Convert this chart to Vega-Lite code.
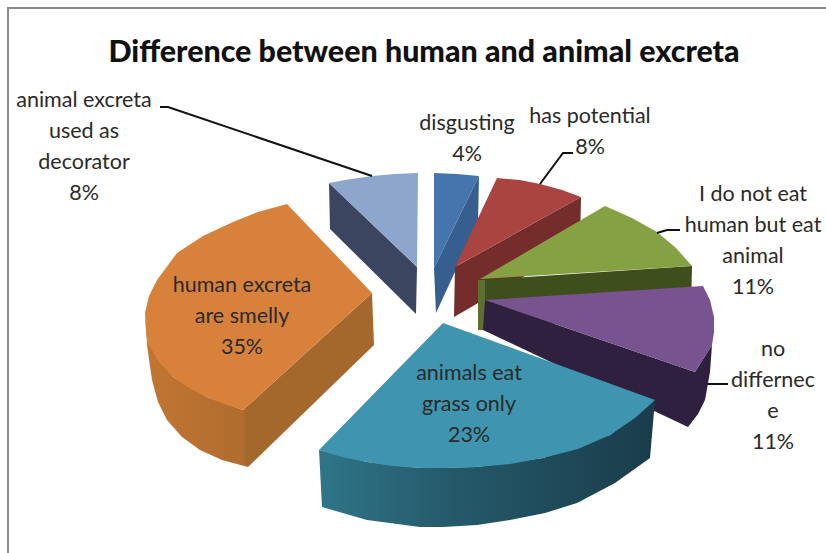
{
  "$schema": "https://vega.github.io/schema/vega-lite/v6.json",
  "width": 826,
  "height": 553,
  "autosize": {"type": "none"},
  "padding": 0,
  "background": "#ffffff",
  "view": {"stroke": null},
  "title": {
    "text": "Difference between human and animal excreta",
    "font": "Lato",
    "fontSize": 30.4,
    "fontWeight": 900,
    "color": "#111111",
    "anchor": "middle",
    "frame": "group",
    "offset": -68,
    "dx": 11
  },
  "resolve": {"scale": {"fill": "independent"}},
  "datasets": {
    "frame": [
      {"part": "frame", "x": 8, "y": 553},
      {"part": "frame", "x": 8, "y": 8},
      {"part": "frame", "x": 826, "y": 8}
    ],
    "rear": [
      {"part": "decorator side", "x": 329, "y": 183}, {"part": "decorator side", "x": 330, "y": 229}, {"part": "decorator side", "x": 416, "y": 314}, {"part": "decorator side", "x": 417, "y": 267},
      {"part": "decorator top", "x": 329, "y": 183}, {"part": "decorator top", "x": 345, "y": 180}, {"part": "decorator top", "x": 372, "y": 176}, {"part": "decorator top", "x": 395, "y": 174}, {"part": "decorator top", "x": 418, "y": 173}, {"part": "decorator top", "x": 417, "y": 267},
      {"part": "disgusting side", "x": 479, "y": 176}, {"part": "disgusting side", "x": 478, "y": 222}, {"part": "disgusting side", "x": 436, "y": 313}, {"part": "disgusting side", "x": 434, "y": 268},
      {"part": "disgusting top", "x": 434, "y": 173}, {"part": "disgusting top", "x": 457, "y": 174}, {"part": "disgusting top", "x": 479, "y": 176}, {"part": "disgusting top", "x": 434, "y": 268},
      {"part": "potential side", "x": 581, "y": 197}, {"part": "potential side", "x": 580, "y": 244}, {"part": "potential side", "x": 454, "y": 317}, {"part": "potential side", "x": 455, "y": 267},
      {"part": "potential top", "x": 497, "y": 178}, {"part": "potential top", "x": 520, "y": 180}, {"part": "potential top", "x": 540, "y": 184}, {"part": "potential top", "x": 562, "y": 190}, {"part": "potential top", "x": 581, "y": 197}, {"part": "potential top", "x": 455, "y": 267},
      {"part": "eat side", "x": 692, "y": 266}, {"part": "eat side", "x": 691, "y": 312}, {"part": "eat side", "x": 478, "y": 330}, {"part": "eat side", "x": 480, "y": 280},
      {"part": "eat edge", "x": 478, "y": 280}, {"part": "eat edge", "x": 485, "y": 280}, {"part": "eat edge", "x": 485, "y": 330}, {"part": "eat edge", "x": 478, "y": 330},
      {"part": "eat top", "x": 605, "y": 206}, {"part": "eat top", "x": 632, "y": 218}, {"part": "eat top", "x": 657, "y": 232}, {"part": "eat top", "x": 676, "y": 248}, {"part": "eat top", "x": 692, "y": 266}, {"part": "eat top", "x": 480, "y": 279},
      {"part": "same side", "x": 485, "y": 300}, {"part": "same side", "x": 483, "y": 330}, {"part": "same side", "x": 688, "y": 427}, {"part": "same side", "x": 698, "y": 414}, {"part": "same side", "x": 705, "y": 400}, {"part": "same side", "x": 710, "y": 372}, {"part": "same side", "x": 712, "y": 345}, {"part": "same side", "x": 695, "y": 372},
      {"part": "same top", "x": 703, "y": 286}, {"part": "same top", "x": 710, "y": 300}, {"part": "same top", "x": 714, "y": 317}, {"part": "same top", "x": 714, "y": 332}, {"part": "same top", "x": 712, "y": 345}, {"part": "same top", "x": 695, "y": 372}, {"part": "same top", "x": 485, "y": 300}
    ],
    "smellySide": [
      {"x": 145, "y": 313}, {"x": 147, "y": 345}, {"x": 152, "y": 380}, {"x": 158, "y": 402}, {"x": 167, "y": 420}, {"x": 182, "y": 437}, {"x": 200, "y": 450}, {"x": 222, "y": 460}, {"x": 248, "y": 467},
      {"x": 374, "y": 345}, {"x": 372, "y": 293}, {"x": 243, "y": 410}, {"x": 207, "y": 397}, {"x": 173, "y": 377}, {"x": 148, "y": 343}
    ],
    "grassSide": [
      {"x": 319, "y": 450}, {"x": 322, "y": 507}, {"x": 367, "y": 520}, {"x": 420, "y": 527}, {"x": 443, "y": 527}, {"x": 477, "y": 525}, {"x": 510, "y": 520}, {"x": 545, "y": 513}, {"x": 577, "y": 503}, {"x": 615, "y": 483}, {"x": 650, "y": 458},
      {"x": 655, "y": 400}, {"x": 610, "y": 435}, {"x": 543, "y": 458}, {"x": 477, "y": 467}, {"x": 420, "y": 468}, {"x": 367, "y": 462}
    ],
    "front": [
      {"part": "grass top", "x": 443, "y": 323}, {"part": "grass top", "x": 655, "y": 400}, {"part": "grass top", "x": 635, "y": 418}, {"part": "grass top", "x": 610, "y": 435}, {"part": "grass top", "x": 578, "y": 449}, {"part": "grass top", "x": 543, "y": 458}, {"part": "grass top", "x": 510, "y": 464}, {"part": "grass top", "x": 477, "y": 467}, {"part": "grass top", "x": 445, "y": 468}, {"part": "grass top", "x": 420, "y": 468}, {"part": "grass top", "x": 392, "y": 466}, {"part": "grass top", "x": 367, "y": 462}, {"part": "grass top", "x": 342, "y": 457}, {"part": "grass top", "x": 319, "y": 450},
      {"part": "smelly top", "x": 287, "y": 204}, {"part": "smelly top", "x": 258, "y": 212}, {"part": "smelly top", "x": 233, "y": 222}, {"part": "smelly top", "x": 203, "y": 236}, {"part": "smelly top", "x": 177, "y": 253}, {"part": "smelly top", "x": 157, "y": 280}, {"part": "smelly top", "x": 149, "y": 296}, {"part": "smelly top", "x": 145, "y": 313}, {"part": "smelly top", "x": 146, "y": 330}, {"part": "smelly top", "x": 148, "y": 343}, {"part": "smelly top", "x": 159, "y": 362}, {"part": "smelly top", "x": 173, "y": 377}, {"part": "smelly top", "x": 189, "y": 388}, {"part": "smelly top", "x": 207, "y": 397}, {"part": "smelly top", "x": 224, "y": 404}, {"part": "smelly top", "x": 243, "y": 410}, {"part": "smelly top", "x": 372, "y": 293}
    ],
    "leaders": [
      {"label": "decorator", "x": 160, "y": 107}, {"label": "decorator", "x": 168, "y": 107}, {"label": "decorator", "x": 372, "y": 176},
      {"label": "potential", "x": 573, "y": 153}, {"label": "potential", "x": 563, "y": 153}, {"label": "potential", "x": 540, "y": 184},
      {"label": "eat", "x": 680, "y": 230}, {"label": "eat", "x": 667, "y": 230}, {"label": "eat", "x": 657, "y": 233},
      {"label": "same", "x": 728, "y": 384}, {"label": "same", "x": 707, "y": 384}
    ],
    "labels": [
      {"text": ["animal excreta", "used as", "decorator", "8%"], "share": 8, "x": 84, "y": 107},
      {"text": ["disgusting", "4%"], "share": 4, "x": 467, "y": 130},
      {"text": ["has potential", "8%"], "share": 8, "x": 590, "y": 123},
      {"text": ["I do not eat", "human but eat", "animal", "11%"], "share": 11, "x": 753, "y": 201},
      {"text": ["no", "differnec", "e", "11%"], "share": 11, "x": 773, "y": 356},
      {"text": ["animals eat", "grass only", "23%"], "share": 23, "x": 469, "y": 380},
      {"text": ["human excreta", "are smelly", "35%"], "share": 35, "x": 242, "y": 292}
    ]
  },
  "encoding": {
    "x": {"field": "x", "type": "quantitative", "scale": {"domain": [0, 826], "nice": false, "zero": false}, "axis": null},
    "y": {"field": "y", "type": "quantitative", "scale": {"domain": [553, 0], "nice": false, "zero": false}, "axis": null}
  },
  "layer": [
    {
      "data": {"name": "frame"},
      "mark": {"type": "line", "stroke": "#8c8c8c", "strokeWidth": 2},
      "encoding": {"order": {"value": null}}
    },
    {
      "data": {"name": "rear"},
      "mark": {"type": "line", "strokeWidth": 0},
      "encoding": {
        "order": {"value": null},
        "fill": {
          "field": "part",
          "type": "nominal",
          "legend": null,
          "scale": {
            "domain": ["decorator side", "decorator top", "disgusting side", "disgusting top", "potential side", "potential top", "eat side", "eat edge", "eat top", "same side", "same top"],
            "range": ["#3b4560", "#8ea5cc", "#365f8f", "#4674ad", "#742d2b", "#a94441", "#3f4f1c", "#5d7030", "#86a044", "#2f203f", "#77538f"]
          }
        }
      }
    },
    {
      "data": {"name": "smellySide"},
      "mark": {
        "type": "line",
        "strokeWidth": 0,
        "fill": {"gradient": "linear", "x1": 0, "y1": 0, "x2": 1, "y2": 0, "stops": [
          {"offset": 0, "color": "#c27633"},
          {"offset": 0.43, "color": "#b06c2e"},
          {"offset": 0.44, "color": "#a5682c"},
          {"offset": 1, "color": "#a5682c"}
        ]}
      },
      "encoding": {"order": {"value": null}}
    },
    {
      "data": {"name": "grassSide"},
      "mark": {
        "type": "line",
        "strokeWidth": 0,
        "fill": {"gradient": "linear", "x1": 0, "y1": 0, "x2": 1, "y2": 0, "stops": [
          {"offset": 0, "color": "#2f7589"},
          {"offset": 0.4, "color": "#25596a"},
          {"offset": 1, "color": "#1a3c4a"}
        ]}
      },
      "encoding": {"order": {"value": null}}
    },
    {
      "data": {"name": "front"},
      "mark": {"type": "line", "strokeWidth": 0},
      "encoding": {
        "order": {"value": null},
        "fill": {
          "field": "part",
          "type": "nominal",
          "legend": null,
          "scale": {"domain": ["grass top", "smelly top"], "range": ["#3f94b0", "#d8813b"]}
        }
      }
    },
    {
      "data": {"name": "leaders"},
      "mark": {"type": "line", "stroke": "#111111", "strokeWidth": 2},
      "encoding": {"order": {"value": null}, "detail": {"field": "label"}}
    },
    {
      "data": {"name": "labels"},
      "mark": {"type": "text", "font": "Lato", "fontSize": 21.5, "lineHeight": 31, "align": "center", "baseline": "alphabetic", "color": "#2a2a2a"},
      "encoding": {"text": {"field": "text"}}
    }
  ]
}
